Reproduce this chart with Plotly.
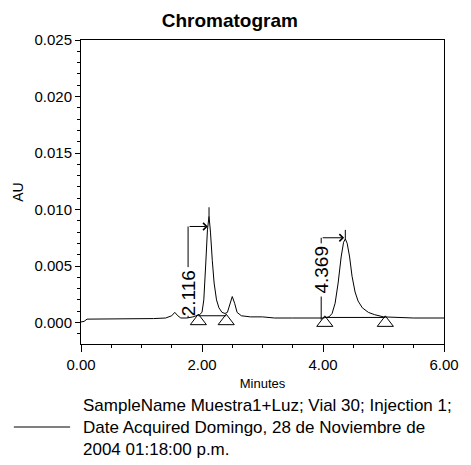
import plotly.graph_objects as go

# ---- data ----
time_min = [0.00, 0.05, 0.10, 0.30, 0.60, 0.90, 1.20, 1.40, 1.50, 1.55, 1.60, 1.65,
            1.75, 1.85, 1.92, 1.96, 2.00, 2.03, 2.06, 2.09, 2.116, 2.14, 2.17, 2.20,
            2.24, 2.28, 2.33, 2.38, 2.42, 2.46, 2.50, 2.54, 2.58, 2.65, 2.80, 3.00,
            3.20, 3.50, 3.80, 4.00, 4.10, 4.15, 4.20, 4.25, 4.30, 4.34, 4.369, 4.40,
            4.44, 4.48, 4.53, 4.58, 4.65, 4.75, 4.85, 5.00, 5.50, 6.00]
au = [0.00005, 0.0001, 0.0003, 0.0003, 0.00035, 0.0003, 0.00035, 0.0004, 0.0006, 0.0009, 0.0006, 0.0004,
      0.0004, 0.0005, 0.0006, 0.0007, 0.0009, 0.0020, 0.0050, 0.0082, 0.0094, 0.0080, 0.0055, 0.0035,
      0.0020, 0.0013, 0.0009, 0.0008, 0.0009, 0.0016, 0.0023, 0.0017, 0.0009, 0.0006, 0.0005, 0.0005,
      0.0004, 0.0004, 0.0004, 0.0004, 0.0005, 0.0008, 0.0017, 0.0035, 0.0058, 0.0071, 0.0074, 0.0070,
      0.0058, 0.0041, 0.0027, 0.0019, 0.0013, 0.0009, 0.0007, 0.0005, 0.0004, 0.0004]

peak_rt = [2.116, 4.369]
peak_height = [0.0094, 0.0074]
peak_labels = ["2.116", "4.369"]
label_x = [1.77, 3.97]
label_y = [0.0026, 0.0047]
label_top = [0.0049, 0.0070]
label_bottom = [0.0006, 0.0023]
arrow_level = [0.0085, 0.0075]
bl_start = [1.94, 4.03]
bl_end = [2.40, 5.03]
bl_level = [0.0006, 0.00045]

x_ticks = [0, 2, 4, 6]
y_ticks = [0.000, 0.005, 0.010, 0.015, 0.020, 0.025]
legend_lines = ["SampleName Muestra1+Luz; Vial 30; Injection 1;",
                "Date Acquired Domingo, 28 de Noviembre de",
                "2004 01:18:00 p.m."]

FONT = "Liberation Sans, Arial, sans-serif"

fig = go.Figure()
fig.add_trace(go.Scatter(x=time_min, y=au, mode="lines",
                         line=dict(color="black", width=1), showlegend=False,
                         hoverinfo="skip"))

# baseline triangles
tri_x = bl_start + bl_end
tri_y = [v - 0.00048 for v in bl_level] * 2
fig.add_trace(go.Scatter(x=tri_x, y=tri_y, mode="markers", showlegend=False,
                         marker=dict(symbol="triangle-up-open", size=14,
                                     color="black", line=dict(width=1, color="black"))))

shapes = []
annotations = []
for i in range(len(peak_rt)):
    shapes.append(dict(type="line", xref="x", yref="y", x0=bl_start[i], x1=bl_end[i],
                       y0=bl_level[i], y1=bl_level[i], line=dict(color="black", width=1)))
    shapes.append(dict(type="line", xref="x", yref="y", x0=label_x[i], x1=label_x[i],
                       y0=label_top[i], y1=arrow_level[i], line=dict(color="black", width=1)))
    shapes.append(dict(type="line", xref="x", yref="y", x0=label_x[i], x1=label_x[i],
                       y0=bl_level[i] - 0.0002, y1=label_bottom[i], line=dict(color="black", width=1)))
    shapes.append(dict(type="line", xref="x", yref="y", x0=peak_rt[i], x1=peak_rt[i],
                       y0=peak_height[i], y1=peak_height[i] + 0.0008,
                       line=dict(color="black", width=1)))
    annotations.append(dict(x=peak_rt[i] - 0.02, y=arrow_level[i], ax=label_x[i], ay=arrow_level[i],
                            xref="x", yref="y", axref="x", ayref="y", text="",
                            showarrow=True, arrowhead=4, arrowsize=1.4, arrowwidth=1,
                            arrowcolor="black"))
    annotations.append(dict(x=label_x[i], y=label_y[i], xref="x", yref="y",
                            text=peak_labels[i], textangle=-90, showarrow=False,
                            font=dict(family=FONT, size=19, color="black")))

# legend-like text block
LEG_Y = -83 / 304
shapes.append(dict(type="line", xref="paper", yref="paper", x0=-0.185, x1=-0.03,
                   y0=LEG_Y, y1=LEG_Y, line=dict(color="black", width=1)))
annotations.append(dict(xref="paper", yref="paper", x=0.0, y=LEG_Y,
                        xanchor="left", yanchor="middle", align="left", showarrow=False,
                        text="<br>".join(legend_lines),
                        font=dict(family=FONT, size=17, color="black")))

fig.update_layout(
    width=471, height=465,
    margin=dict(l=81, r=18, t=40, b=121),
    paper_bgcolor="white", plot_bgcolor="white",
    title=dict(text="<b>Chromatogram</b>", x=0.41, xref="paper", xanchor="center",
               y=1 - 20 / 465, yref="container", yanchor="middle",
               font=dict(family=FONT, size=19, color="black")),
    shapes=shapes, annotations=annotations,
    showlegend=False,
)
fig.update_xaxes(range=[0, 6], tickvals=x_ticks, ticktext=[f"{v:.2f}" for v in x_ticks],
                 showgrid=False, zeroline=False, showline=True, linecolor="black",
                 linewidth=1, mirror=True, ticks="outside", ticklen=7, tickcolor="black",
                 tickfont=dict(family=FONT, size=15, color="black"),
                 minor=dict(dtick=0.5, ticks="outside", ticklen=3, tickcolor="black"),
                 title=dict(text="Minutes", font=dict(family=FONT, size=13, color="black"),
                            standoff=6))
fig.update_yaxes(range=[-0.0019, 0.025], tickvals=y_ticks, ticktext=[f"{v:.3f}" for v in y_ticks],
                 showgrid=False, zeroline=False, showline=True, linecolor="black",
                 linewidth=1, mirror=True, ticks="outside", ticklen=5, tickcolor="black",
                 tickfont=dict(family=FONT, size=15, color="black"),
                 minor=dict(dtick=0.001, ticks="outside", ticklen=3, tickcolor="black"),
                 title=dict(text="AU", font=dict(family=FONT, size=14, color="black"),
                            standoff=7))

fig.write_html("out.html")
